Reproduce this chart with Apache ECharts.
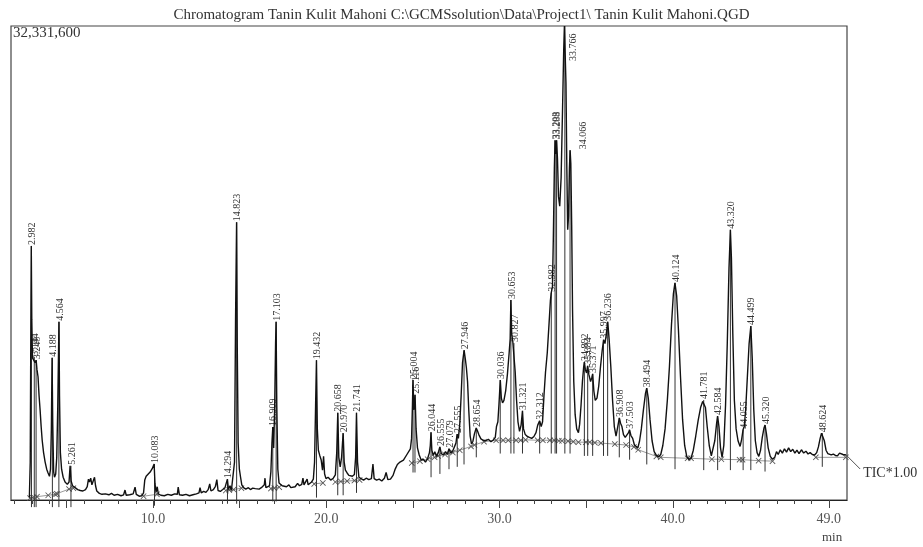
<!DOCTYPE html>
<html><head><meta charset="utf-8">
<script src="https://cdn.jsdelivr.net/npm/echarts@6/dist/echarts.min.js"></script>
<style>html,body{margin:0;padding:0;background:#fff}#c{width:923px;height:547px}</style>
</head><body><div id="c"></div>
<script>
// ---------------- DATA ----------------
const titleText = 'Chromatogram Tanin Kulit Mahoni C:\\GCMSsolution\\Data\\Project1\\ Tanin Kulit Mahoni.QGD';
const fullScaleLabel = '32,331,600';
const detectorLabel = 'TIC*1.00';
const unitLabel = 'min';
const xLabelValues = [10, 20, 30, 40, 49];
const xMinorTicks = [2,3,4,5,6,7,8,9,10,11,12,13,14,15,16,17,18,19,20,21,22,23,24,25,26,27,28,29,30,31,32,33,34,35,36,37,38,39,40,41,42,43,44,45,46,47,48,49];
const xMajorTicks = [5,10,15,20,25,30,35,40,45,49];

// trace: [retention time (min), intensity (% of 32,331,600)]
const tracePoints = [
[2.86,0.5],[2.91,8],[2.95,40],[2.97,53.6],[3.00,38],[3.04,30],[3.09,29.6],[3.14,30.2],[3.19,29.0],[3.25,29.5],[3.30,27.5],[3.36,26.0],[3.42,22],[3.48,19],[3.54,15.5],[3.60,12.6],[3.68,10],[3.77,8],[3.86,6.5],[3.94,5.7],[4.02,5.0],[4.08,6.5],[4.13,15],[4.17,30.0],[4.21,16],[4.26,6],[4.31,4.8],[4.38,5.5],[4.44,9],[4.50,20],[4.55,33],[4.57,37.6],[4.60,22],[4.65,10],[4.72,6.5],[4.81,4.8],[4.92,3.8],[5.05,3.3],[5.15,3.8],[5.21,7.2],[5.27,4.0],[5.35,3.0],[5.50,2.6],[5.65,2.2],[5.80,2.0],[5.95,1.9],[6.10,2.2],[6.20,2.8],[6.27,4.4],[6.33,3.8],[6.40,4.6],[6.47,3.2],[6.55,3.6],[6.62,4.8],[6.68,3.0],[6.75,1.9],[6.90,1.4],[7.05,1.2],[7.25,1.3],[7.45,1.1],[7.60,1.4],
[7.75,1.0],[7.95,1.2],[8.15,0.9],[8.30,1.1],[8.38,2.1],[8.45,1.0],[8.65,1.1],[8.85,1.3],[8.96,2.7],[9.03,1.2],[9.20,0.8],[9.35,0.9],[9.45,1.5],[9.52,4.2],[9.60,5.0],[9.70,5.2],[9.83,5.9],[9.95,6.6],[10.06,7.6],[10.11,3.5],[10.17,1.6],[10.24,2.8],[10.30,1.3],[10.45,1.0],[10.65,0.9],[10.85,1.2],[11.05,1.0],[11.25,1.3],[11.40,1.2],[11.45,2.7],[11.52,1.1],[11.70,1.0],[11.90,1.2],[12.10,0.9],[12.30,1.1],[12.50,1.3],[12.65,1.5],[12.71,2.6],[12.78,1.5],[12.92,1.8],[13.05,1.6],[13.18,2.2],[13.27,3.4],[13.34,1.9],[13.48,2.2],[13.60,2.9],[13.68,4.3],[13.75,2.0],[13.88,1.8],[14.02,2.2],[14.15,2.6],[14.24,3.0],[14.29,4.4],[14.35,2.2],[14.44,3.0],[14.52,2.0],[14.62,2.3],[14.70,8],[14.76,38],[14.82,58.6],[14.86,32],[14.91,12],[14.98,6.5],[15.05,4.8],[15.12,3.2],[15.22,2.6],[15.35,2.3],[15.50,2.6],[15.62,2.2],[15.75,2.5],[15.90,2.4],[16.00,2.8],[16.12,2.3],[16.25,2.6],[16.36,2.4],[16.42,3.2],[16.46,4.6],[16.51,2.6],[16.62,2.5],[16.72,3.0],[16.80,6],[16.86,12],[16.91,15.4],[16.96,11],[17.02,20],[17.07,33],[17.10,37.6],[17.14,20],[17.20,6.5],[17.27,3.6],[17.36,3.9],[17.45,3.0],[17.56,3.3],[17.70,2.8],[17.84,3.2],[17.95,2.6],[18.06,3.0],[18.20,2.8],[18.34,3.5],[18.45,3.0],[18.58,3.3],[18.65,4.6],[18.71,3.2],[18.80,3.4],[18.89,4.4],[18.95,3.2],[19.05,3.6],[19.15,3.8],[19.25,4.4],[19.32,8],[19.38,20],[19.43,29.5],[19.48,15],[19.54,10.5],[19.62,9.4],[19.70,8.5],[19.78,6.3],[19.84,9.2],[19.90,5.5],[19.98,4.5],[20.10,4.8],[20.25,4.2],[20.40,4.6],[20.52,5.3],[20.60,10],[20.66,18.4],[20.72,9],[20.80,7],[20.88,9],[20.97,14.1],[21.03,8],[21.10,6.3],[21.20,5.7],[21.30,5.2],[21.40,4.8],[21.50,5.0],[21.62,5.4],[21.69,9],[21.74,18.4],[21.80,8],[21.88,4.8],[22.00,4.5],[22.15,4.2],[22.30,4.6],[22.45,4.3],[22.60,4.5],[22.69,7.6],[22.76,4.5],[22.90,4.2],[23.05,4.4],[23.20,4.0],[23.35,4.6],[23.45,5.8],[23.55,4.3],[23.70,4.4],[23.85,5.2],[23.96,6.4],[24.10,7.5],[24.25,8.0],[24.35,7.6],[24.45,8.4],[24.55,8.8],[24.65,9.6],[24.75,9.4],[24.85,10.8],[24.92,13],[24.97,20],
[25.00,25.3],[25.05,19],[25.09,20],[25.12,22.2],[25.18,15],[25.26,11],[25.36,9.5],[25.48,8.4],[25.60,8.6],[25.72,8.0],[25.85,8.8],[25.95,10],[26.00,11.5],[26.04,14.3],[26.09,10.5],[26.17,9.4],[26.26,10.2],[26.36,9.2],[26.46,10.0],[26.55,11.2],[26.64,9.8],[26.76,9.5],[26.88,10.2],[26.98,9.6],[27.08,10.8],[27.18,9.9],[27.30,10.4],[27.40,10.6],[27.48,12],[27.55,13.9],[27.62,13],[27.70,16],[27.78,22],[27.86,29],[27.95,31.6],[28.02,29.8],[28.08,28],[28.15,25],[28.22,19],[28.30,13.5],[28.38,11.8],[28.46,12.4],[28.55,14],[28.65,15.2],[28.72,14.6],[28.80,13.8],[28.92,12.9],[29.05,12.6],[29.20,12.5],[29.35,12.8],[29.50,12.3],[29.62,12.6],[29.75,13.2],[29.82,15.5],[29.90,16.5],[29.96,20],[30.04,25.3],[30.10,21.5],[30.17,20.5],[30.25,21.0],[30.35,23],[30.45,26.5],[30.55,31],[30.61,34],[30.65,42.2],[30.70,35],[30.76,33.5],[30.83,33.1],[30.90,27],[30.98,21],[31.06,16.5],[31.15,14.5],[31.24,15.8],[31.32,18.8],[31.38,15],[31.48,13.8],[31.60,13.4],[31.72,13.2],[31.85,13.0],[31.98,13.4],[32.10,14.2],[32.20,15.8],[32.31,16.7],[32.40,15.5],[32.48,16.5],[32.56,22],[32.65,27],[32.75,31],[32.85,37],[32.93,42],[32.98,43.7],[33.05,45],[33.10,55],[33.16,70],[33.20,75.9],[33.24,73],[33.29,75.9],[33.34,72],[33.40,64],[33.47,62],[33.55,68],[33.63,82],[33.70,95],[33.74,100],[33.78,100],[33.83,88],[33.88,70],[33.93,57],[33.98,60],[34.03,70],[34.07,73.8],[34.11,71],[34.16,58],[34.21,40],[34.28,25],[34.36,18],[34.45,15],[34.55,14.2],
[34.62,16],[34.70,20],[34.78,25],[34.85,28],[34.89,29.1],[34.95,27.5],[35.02,26.8],[35.08,28.3],[35.15,26.5],[35.25,25],[35.32,25.8],[35.37,26.6],[35.44,23],[35.52,21],[35.62,21.5],[35.72,24],[35.82,28],[35.92,31.5],[36.00,33.8],[36.08,33],[36.16,35],[36.24,37.6],[36.32,34],[36.42,28],[36.52,21],[36.62,15.5],[36.72,13.5],[36.82,15.5],[36.91,17.3],[36.98,16.2],[37.06,15.5],[37.15,13.8],[37.25,13.2],[37.35,13.6],[37.44,14.2],[37.50,14.8],[37.58,13.6],[37.68,13.0],[37.78,11.6],[37.88,11.2],[37.98,11.0],[38.08,12.5],[38.18,15],[38.30,19],[38.42,22.5],[38.49,23.6],[38.58,21.5],[38.68,17],[38.80,12.5],[38.92,10.2],[39.05,9.4],[39.18,9.1],[39.30,9.6],[39.42,11.5],[39.55,15],[39.68,21],[39.80,28],[39.92,37],[40.03,43.5],[40.12,45.8],[40.22,43],[40.32,36],[40.44,26],[40.56,17],[40.68,11.5],[40.80,9.2],[40.92,8.6],[41.05,8.8],[41.18,10.5],[41.32,13.5],[41.46,16.8],[41.60,19.5],[41.72,20.8],[41.78,21.1],[41.88,19.5],[41.98,15.5],[42.10,11.5],[42.22,9.3],[42.32,9.6],[42.42,12.5],[42.52,16],[42.58,17.7],[42.66,15.5],[42.75,11],[42.84,9.0],[42.94,11.5],[43.04,20],[43.14,33],[43.24,49],[43.32,57.0],[43.38,51],[43.46,35],[43.55,21],[43.65,15],[43.76,12.5],[43.88,11.3],[43.97,12.8],[44.05,14.8],[44.12,15.5],[44.20,19],[44.30,26],[44.40,33],[44.50,36.7],[44.58,30],[44.67,19],[44.76,12.5],[44.86,10],[44.96,9.2],[45.06,10.5],[45.16,13.2],[45.26,15.2],[45.32,15.8],[45.40,14],[45.50,11],[45.62,9.2],[45.75,8.6],[45.88,9.0],[45.98,10.2],[46.08,9.6],[46.20,10.6],[46.32,9.9],[46.44,10.8],[46.56,10.1],[46.68,11.0],[46.80,10.2],[46.92,10.7],[47.04,9.9],[47.16,10.5],[47.28,9.8],[47.42,10.6],[47.55,9.9],[47.68,10.3],[47.80,9.7],[47.92,10.0],[48.05,9.6],[48.18,9.5],[48.30,10.0],[48.40,11.2],[48.50,13.0],[48.58,14.1],[48.66,13.8],[48.74,12.5],[48.84,10.5],[48.94,9.8],[49.04,10.2],[49.14,9.5],[49.26,9.7],[49.38,9.4],[49.50,9.3],[49.62,9.9],[49.72,10.2],[49.82,9.6],[49.93,9.4],[50.00,9.5]
];

// integrated peaks: retention time label, apex height (%), bottom end of the marker line (%)
const peakLabels = ['2.982','3.144','3.248','4.188','4.564','5.261','10.083','14.294','14.823','16.909','17.103','19.432','20.658','20.970','21.741','25.004','25.116','26.044','26.555','27.079','27.555','27.946','28.654','30.036','30.653','30.827','31.321','32.312','32.982','33.203','33.288','33.766','34.066','34.892','35.084','35.371','35.997','36.236','36.908','37.503','38.494','40.124','41.781','42.584','43.320','44.055','44.499','45.320','48.624'];
const peakHeights = [53.6,30.2,29.5,30.0,37.6,7.2,7.6,4.4,58.6,15.4,37.6,29.5,18.4,14.1,18.4,25.3,22.2,14.3,11.2,10.8,13.9,31.6,15.2,25.3,42.2,33.1,18.8,16.7,43.7,75.9,75.9,100,73.8,29.1,28.3,26.6,33.8,37.6,17.3,14.8,23.6,45.8,21.1,17.7,57.0,14.8,36.7,15.8,14.1];
const peakFloors = [-1.5,-1.5,-1.5,-1.5,-1.5,-1.5,-1.2,-0.8,-0.8,-0.3,-0.3,0.5,1.0,1.0,1.5,5.8,5.8,4.8,5.5,6.5,7.0,7.5,9.0,9.8,9.8,9.8,9.8,9.8,9.8,9.8,9.8,9.8,9.8,9.3,9.3,9.3,9.3,9.3,9.0,8.5,7.5,6.5,6.3,6.3,6.3,6.3,6.3,6.0,7.0];

// integration baseline points (gaps between separate baseline runs)
const baselinePoints = [
[2.90,0.4],[3.05,0.5],[3.30,0.7],[3.95,1.0],[4.35,1.2],[4.45,1.3],[5.15,2.3],[5.40,2.5],[5.41,'-'],
[9.45,0.8],[10.22,1.2],[10.23,'-'],
[14.20,2.0],[14.40,2.1],[14.65,2.2],[15.10,2.5],[15.11,'-'],
[16.80,2.4],[17.00,2.5],[17.28,2.7],[17.29,'-'],
[19.30,3.4],[19.80,3.6],[19.81,'-'],
[20.52,3.8],[20.84,3.9],[21.20,4.0],[21.62,4.1],[21.92,4.2],[21.93,'-'],
[24.93,7.8],[25.40,8.2],[25.85,8.6],[26.25,9.0],[26.45,9.3],[26.85,9.6],[27.30,10.0],[27.70,10.5],[28.35,11.3],[28.55,11.6],[29.10,12.3],[29.80,12.6],[30.20,12.6],[30.50,12.6],[30.95,12.6],[31.22,12.6],[31.50,12.7],[32.20,12.6],[32.50,12.6],[32.90,12.6],[33.15,12.6],[33.42,12.5],[33.60,12.5],[33.95,12.4],[34.25,12.3],[34.55,12.2],[34.98,12.2],[35.20,12.2],[35.50,12.1],[35.85,12.0],[36.65,11.8],[37.30,11.6],[37.75,11.2],[38.00,10.6],[39.05,9.2],[39.30,9.0],[40.85,8.8],[41.05,8.8],[42.25,8.6],[42.80,8.6],[43.85,8.5],[44.02,8.5],[44.95,8.3],[45.75,8.2],[45.76,'-'],
[48.25,9.0],[49.98,9.0]
];

// ---------------- STYLE / LAYOUT ----------------
const SERIF = '"Liberation Serif","DejaVu Serif",serif';
const labelNudge = { '33.766': [8, 36], '34.066': [12, 0] };
const X_MIN = 1.8, X_MAX = 50.05;

const chart = echarts.init(document.getElementById('c'), null, {renderer: 'canvas'});

const peakData = peakLabels.map((s, i) => [parseFloat(s), peakHeights[i], peakFloors[i]]);

const option = {
  animation: false,
  backgroundColor: '#fff',
  title: {
    text: titleText, left: 'center', top: 3,
    textStyle: {fontFamily: SERIF, fontSize: 15, fontWeight: 'normal', color: '#333'}
  },
  grid: {left: 11, right: 76, top: 26, bottom: 47, show: true, borderColor: '#444', borderWidth: 1.2},
  xAxis: [{
    type: 'value', min: X_MIN, max: X_MAX, position: 'bottom',
    axisLine: {show: true, onZero: false, lineStyle: {color: '#222', width: 1.2}},
    axisTick: {show: true, customValues: xMinorTicks, length: 4, lineStyle: {color: '#444'}},
    axisLabel: {customValues: xLabelValues, formatter: v => Number(v).toFixed(1), margin: 12,
      fontFamily: SERIF, fontSize: 14, color: '#555'},
    splitLine: {show: false}
  }, {
    type: 'value', min: X_MIN, max: X_MAX, position: 'bottom', offset: 0,
    axisLine: {show: false, onZero: false},
    axisTick: {show: true, customValues: xMajorTicks, length: 8, lineStyle: {color: '#444'}},
    axisLabel: {show: false}, splitLine: {show: false}
  }],
  yAxis: {
    type: 'value', min: 0, max: 100,
    axisLine: {show: false}, axisTick: {show: false}, splitLine: {show: false},
    axisLabel: {inside: true, customValues: [100], formatter: () => fullScaleLabel,
      verticalAlign: 'top', margin: 2, fontFamily: SERIF, fontSize: 15, color: '#333'}
  },
  series: [{
    type: 'line', name: 'baseline', data: baselinePoints, connectNulls: false,
    symbol: 'path://M0,1L1,0L5,4L9,0L10,1L6,5L10,9L9,10L5,6L1,10L0,9L4,5Z',
    symbolSize: 6, showSymbol: true,
    itemStyle: {color: '#555'}, lineStyle: {color: '#9a9a9a', width: 1}, z: 2, silent: true
  }, {
    type: 'custom', name: 'peaks', data: peakData, z: 3, silent: true,
    renderItem: function (params, api) {
      const t = api.value(0), h = api.value(1), f = api.value(2);
      const top = api.coord([t, h]);
      const bot = api.coord([t, f]);
      const lab = peakLabels[params.dataIndex];
      const nd = labelNudge[lab] || [0, 0];
      return {
        type: 'group',
        children: [{
          type: 'line',
          shape: {x1: top[0], y1: top[1], x2: bot[0], y2: bot[1]},
          style: {stroke: '#333', lineWidth: 1}
        }, {
          type: 'text',
          x: top[0] + 1 + nd[0], y: top[1] - 1 + nd[1],
          rotation: Math.PI / 2,
          style: {text: lab, align: 'left', verticalAlign: 'middle',
            fontFamily: SERIF, fontSize: 10, fill: '#333'}
        }]
      };
    }
  }, {
    type: 'line', name: 'TIC', data: tracePoints, showSymbol: false, symbol: 'none',
    lineStyle: {color: '#111', width: 1.4}, z: 4, silent: true
  }]
};
chart.setOption(option);

// annotations: detector label with leader from the trace end, and unit label
const endPt = tracePoints[tracePoints.length - 1];
const endPx = chart.convertToPixel({gridIndex: 0}, endPt);
chart.setOption({
  graphic: [{
    type: 'line', shape: {x1: endPx[0], y1: endPx[1], x2: endPx[0] + 14, y2: endPx[1] + 14},
    style: {stroke: '#555', lineWidth: 1}
  }, {
    type: 'text', x: endPx[0] + 17, y: endPx[1] + 18,
    style: {text: detectorLabel, fontFamily: SERIF, fontSize: 14, fill: '#333', align: 'left', verticalAlign: 'middle'}
  }, {
    type: 'text', left: 822, top: 531,
    style: {text: unitLabel, fontFamily: SERIF, fontSize: 13, fill: '#444'}
  }]
});
</script></body></html>
